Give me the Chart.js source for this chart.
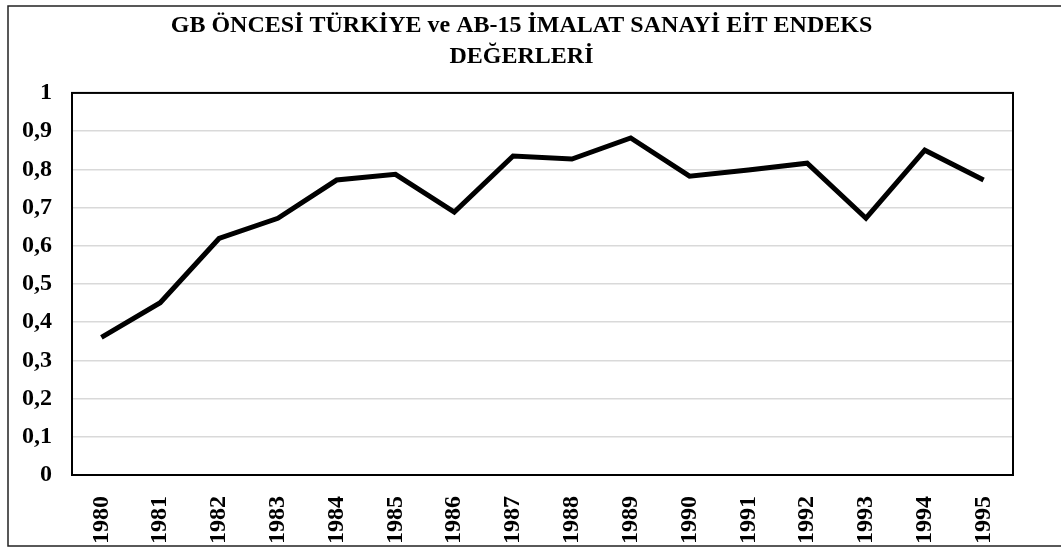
<!DOCTYPE html>
<html>
<head>
<meta charset="utf-8">
<script src="https://cdn.jsdelivr.net/npm/chart.js@4"></script>
<style>
  html, body { margin: 0; padding: 0; background: #fff; }
  #wrap { width: 1061px; height: 549px; position: relative; }
</style>
</head>
<body>
<div id="wrap"><canvas id="eitChart"></canvas></div>
<script>
// Veriler
const years = ['1980', '1981', '1982', '1983', '1984', '1985', '1986', '1987',
               '1988', '1989', '1990', '1991', '1992', '1993', '1994', '1995'];
const eitValues = [0.36, 0.451, 0.619, 0.672, 0.772, 0.787, 0.688, 0.835,
                   0.827, 0.882, 0.782, 0.798, 0.816, 0.672, 0.850, 0.772];
const yTickLabels = ['0', '0,1', '0,2', '0,3', '0,4', '0,5', '0,6', '0,7', '0,8', '0,9', '1'];
const chartTitle = ['GB ÖNCESİ TÜRKİYE ve AB-15 İMALAT SANAYİ EİT ENDEKS', 'DEĞERLERİ'];

const serif = "'Liberation Serif', 'Times New Roman', serif";

// Dış çerçeve ve çizim alanı çerçevesi
const framePlugin = {
    id: 'frames',
    beforeDatasetsDraw(chart) {
        const { ctx, chartArea } = chart;
        ctx.save();
        ctx.strokeStyle = '#000';
        ctx.lineWidth = 2;
        ctx.strokeRect(chartArea.left, chartArea.top,
                       chartArea.right - chartArea.left, chartArea.bottom - chartArea.top);
        ctx.restore();
    },
    afterDraw(chart) {
        const { ctx } = chart;
        ctx.save();
        ctx.strokeStyle = '#222';
        ctx.lineWidth = 1.5;
        // sağ kenar resmin dışında kalıyor
        ctx.strokeRect(8, 6, chart.width + 20, 540);
        ctx.restore();
    }
};

document.addEventListener('DOMContentLoaded', () => {
    new Chart(document.getElementById('eitChart').getContext('2d'), {
        type: 'line',
        data: {
            labels: years,
            datasets: [{
                data: eitValues,
                borderColor: '#000',
                borderWidth: 5,
                pointRadius: 0,
                tension: 0,
                fill: false
            }]
        },
        options: {
            responsive: true,
            maintainAspectRatio: false,
            animation: false,
            layout: { padding: { left: 0, right: 18, top: 0, bottom: 0 } },
            plugins: {
                legend: { display: false },
                tooltip: { enabled: false },
                title: {
                    display: true,
                    text: chartTitle,
                    color: '#000',
                    font: { family: serif, size: 24, weight: 'bold', lineHeight: 1.29 },
                    padding: { top: 10, bottom: 21 }
                }
            },
            scales: {
                x: {
                    offset: true,
                    grid: { display: false },
                    border: { display: false },
                    afterFit: (scale) => { scale.height = 74; },
                    ticks: {
                        color: '#000',
                        minRotation: 90,
                        maxRotation: 90,
                        padding: 13,
                        font: { family: serif, size: 24, weight: 'bold' }
                    }
                },
                y: {
                    min: 0,
                    max: 1,
                    grid: { color: '#d9d9d9', lineWidth: 1.5, drawTicks: false, tickLength: 0 },
                    border: { display: false },
                    afterFit: (scale) => { scale.width = 72; },
                    ticks: {
                        stepSize: 0.1,
                        color: '#000',
                        padding: 20,
                        font: { family: serif, size: 24, weight: 'bold' },
                        callback: (v, i) => yTickLabels[i]
                    }
                },
                // sağda boş bir eksen: yalnızca boşluk bırakmak için
                yRight: {
                    position: 'right',
                    min: 0,
                    max: 1,
                    grid: { display: false },
                    border: { display: false },
                    ticks: { display: false },
                    afterFit: (scale) => { scale.width = 30; }
                }
            }
        },
        plugins: [framePlugin]
    });
});
</script>
</body>
</html>
